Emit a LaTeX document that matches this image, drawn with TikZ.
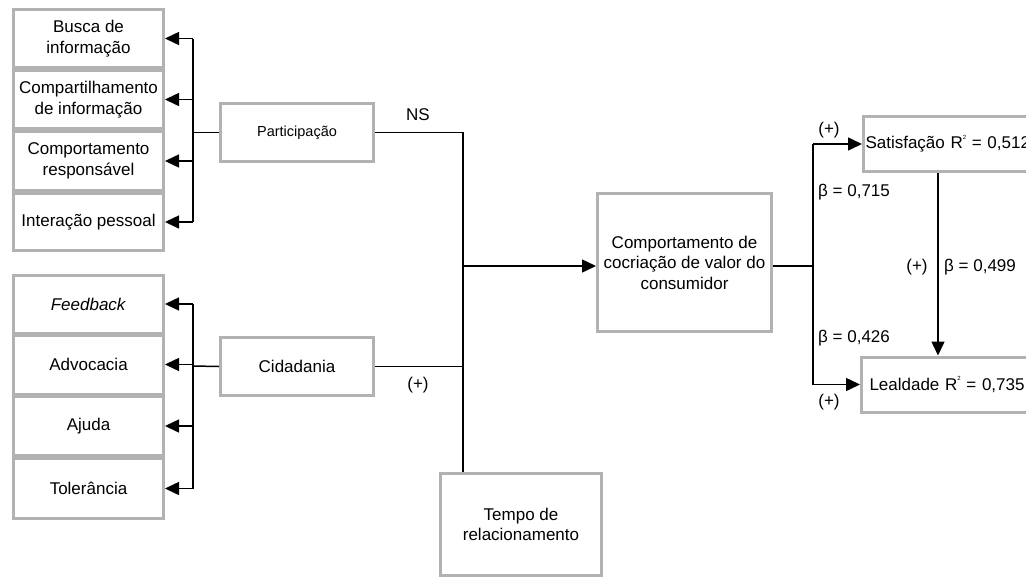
\documentclass[tikz,border=0pt]{standalone}
\usepackage{fontspec}
\setmainfont{Liberation Sans}
\usetikzlibrary{arrows.meta}
\newcommand{\txtfont}{\fontsize{17}{20.5}\selectfont}
\newcommand{\smallfont}{\fontsize{14.5}{17}\selectfont}
\newcommand{\Rsq}{R\raisebox{0.55em}{\fontsize{6}{6}\selectfont 2}}
\tikzset{
  caixa/.style={draw=gray!60, line width=3, fill=white, align=center, inner sep=2, font=\txtfont},
  liga/.style={line width=1.5, black},
  rotulo/.style={font=\txtfont, inner sep=0},
}
\begin{document}
\begin{tikzpicture}[x=1pt, y=-1pt, >={Triangle[length=14pt,width=13pt]}]
	\useasboundingbox (0,0) rectangle (1026,579);
	% Dimensões da participação
	\node[caixa, minimum width=150, minimum height=58] (busca) at (88.5,38.5) {Busca de\\informação};
	\node[caixa, minimum width=150, minimum height=58] (compart) at (88.5,99.5) {Compartilhamento\\de informação};
	\node[caixa, minimum width=150, minimum height=59] (respons) at (88.5,161) {Comportamento\\responsável};
	\node[caixa, minimum width=150, minimum height=57] (interacao) at (88.5,222) {Interação pessoal};
	% Dimensões da cidadania
	\node[caixa, minimum width=150, minimum height=58] (feedback) at (88.5,304) {\textit{Feedback}};
	\node[caixa, minimum width=150, minimum height=59] (advocacia) at (88.5,364.5) {Advocacia};
	\node[caixa, minimum width=150, minimum height=59] (ajuda) at (88.5,426) {Ajuda};
	\node[caixa, minimum width=150, minimum height=60] (tolerancia) at (88.5,488.5) {Tolerância};
	% Construtos centrais
	\node[caixa, font=\smallfont, minimum width=153, minimum height=58] (particip) at (297,132.5) {Participação};
	\node[caixa, minimum width=153, minimum height=58] (cidadania) at (297,366.5) {Cidadania};
	\node[caixa, minimum width=174, minimum height=138] (ccv) at (684.5,262.5) {Comportamento de\\cocriação de valor do\\consumidor};
	\node[caixa, minimum width=161, minimum height=102] (tempo) at (521,524.5) {Tempo de\\relacionamento};
	% Consequentes (cortados na margem direita)
	\node[caixa, anchor=west, align=left, text width=180, minimum height=55, inner xsep=2] (satisf) at (862,144) {Satisfação \Rsq{} = 0,512};
	\node[caixa, anchor=west, align=left, text width=180, minimum height=55, inner xsep=8] (lealdade) at (860,384.5) {Lealdade \Rsq{} = 0,735};

	% Pontos de junção
	\coordinate (jp) at (193,132.5);
	\coordinate (jc) at (193,366);
	\coordinate (jm) at (463,266);
	\coordinate (jr) at (813,266);
	\coordinate (js) at (938,0);

	% Chaves da esquerda
	\draw[liga] (particip.west) -- (jp);
	\draw[liga] (jp |- busca.east) -- (jp |- interacao.east);
	\foreach \b in {busca,compart,respons,interacao}
		\draw[liga, ->] (jp |- \b.east) -- (\b.east);
	\draw[liga] (cidadania.west) -- (jc);
	\draw[liga] (jc |- feedback.east) -- (jc |- tolerancia.east);
	\foreach \b in {feedback,advocacia,ajuda,tolerancia}
		\draw[liga, ->] (jc |- \b.east) -- (\b.east);

	% Ligações para o comportamento de cocriação
	\draw[liga] (particip.east) -- (jm |- particip.east) -- (jm |- tempo.north);
	\draw[liga] (cidadania.east) -- (jm |- cidadania.east);
	\draw[liga, ->] (jm) -- (jm -| ccv.west);
	\node[rotulo] (ns) at (418,115) {NS};
	\node[rotulo] (pc) at (418,385) {(+)};

	% Ligações à direita
	\draw[liga] (jm -| ccv.east) -- (jr);
	\draw[liga] (jr |- satisf.west) -- (jr |- lealdade.west);
	\draw[liga, ->] (jr |- satisf.west) -- (satisf.west);
	\draw[liga, ->] (jr |- lealdade.west) -- (lealdade.west);
	\draw[liga, ->] (js |- satisf.south) -- (js |- lealdade.north);
	\node[rotulo] (ps) at (829,130) {(+)};
	\node[rotulo, anchor=west] (b1) at (818,192) {β = 0,715};
	\node[rotulo] (psl) at (917,267) {(+)};
	\node[rotulo, anchor=west] (b2) at (944,267) {β = 0,499};
	\node[rotulo, anchor=west] (b3) at (818,338) {β = 0,426};
	\node[rotulo] (pl) at (829,402) {(+)};
\end{tikzpicture}
\end{document}
